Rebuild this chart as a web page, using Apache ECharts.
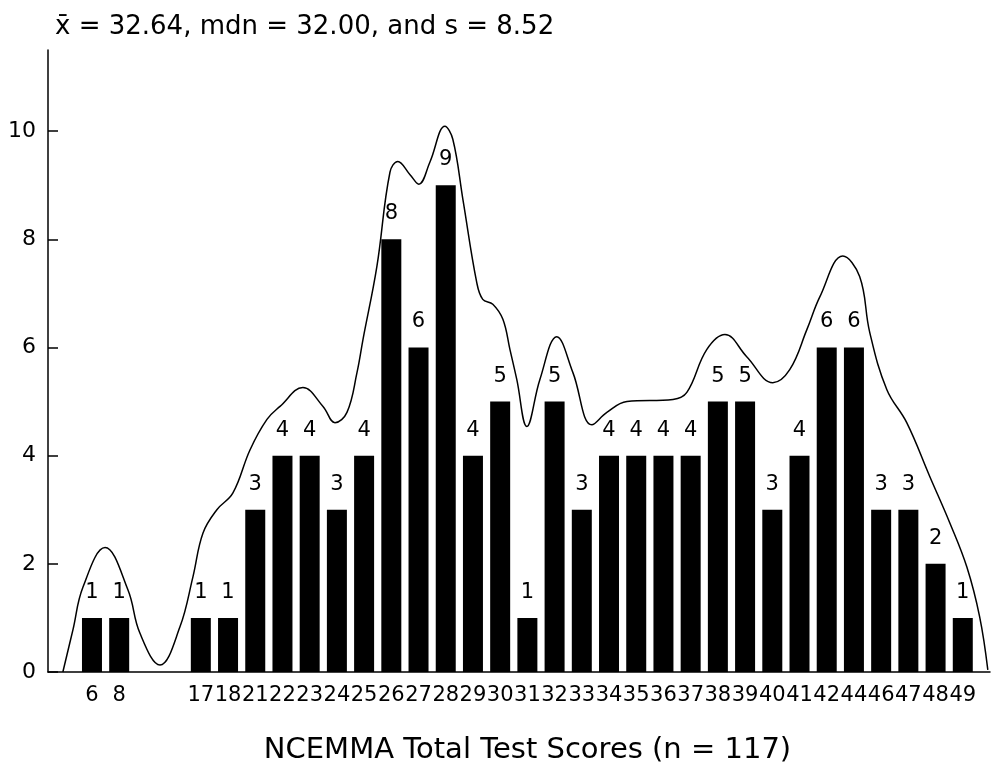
<!DOCTYPE html>
<html>
<head>
<meta charset="utf-8">
<script src="https://cdn.jsdelivr.net/npm/echarts@6/dist/echarts.min.js"></script>
<style>html,body{margin:0;padding:0;background:#fff}#c{width:995px;height:766px}</style>
</head>
<body>
<div id="c"></div>
<script>
// Score categories (blank entries are empty score slots on the axis)
const categories = ['6','8','','','17','18','21','22','23','24','25','26','27','28','29','30','31','32','33','34','35','36','37','38','39','40','41','42','44','46','47','48','49'];
// Frequency of each score
const counts = [1,1,null,null,1,1,3,4,4,3,4,8,6,9,4,5,1,5,3,4,4,4,4,5,5,3,4,6,6,3,3,2,1];
// Smoothed density curve, x in category-slot units (slot 1 = score 6)
const curveX = [-0.07,0.30,0.67,1.48,2.32,2.76,3.50,4.23,4.71,5.08,5.59,6.18,6.81,7.43,7.91,8.75,9.49,9.93,10.37,10.74,10.96,11.47,11.95,12.24,12.68,13.01,13.42,13.97,14.26,14.63,15.14,15.36,15.73,16.10,16.36,16.61,16.98,17.46,18.08,18.67,19.37,19.92,20.66,22.35,22.86,23.59,24.26,25.06,26.02,26.64,27.27,27.75,28.59,29.21,29.58,30.21,30.94,31.79,32.52,33.15,33.62,33.92];
const curveY = [0,0.78,1.57,2.30,1.52,0.72,0.13,0.83,1.76,2.57,3.00,3.31,4.11,4.67,4.91,5.26,4.91,4.61,4.80,5.54,6.15,7.50,9.24,9.44,9.20,9.02,9.43,10.09,9.85,8.74,7.20,6.89,6.80,6.52,5.96,5.41,4.54,5.41,6.20,5.54,4.57,4.80,5.00,5.04,5.17,5.96,6.24,5.83,5.35,5.59,6.33,6.94,7.69,7.31,6.28,5.22,4.61,3.61,2.76,1.94,1.02,0.04];
const yTicks = [0,2,4,6,8,10];
const titleText = 'x\u0304 = 32.64, mdn = 32.00, and s = 8.52';
const axisTitle = 'NCEMMA Total Test Scores (n = 117)';

const slots = categories.map((c, i) => i + 1);
const labelSlots = slots.filter((s, i) => categories[i] !== '');
const barData = [];
counts.forEach((v, i) => { if (v != null) barData.push([i + 1, v]); });
const lineData = curveX.map((x, i) => [x, curveY[i]]);

const FONT = 'DejaVu Sans';
const chart = echarts.init(document.getElementById('c'), null, {renderer: 'canvas'});
chart.setOption({
  animation: false,
  backgroundColor: '#fff',
  title: {
    text: titleText,
    left: 50, top: 9,
    textStyle: {fontFamily: FONT, fontSize: 26, fontWeight: 'normal', color: '#000'}
  },
  grid: {left: 48, right: 5, top: 50, bottom: 94, outerBoundsMode: 'none'},
  xAxis: {
    type: 'value',
    min: -0.616, max: 34,
    splitLine: {show: false},
    axisLine: {show: true, onZero: false, lineStyle: {color: '#000', width: 1.5}},
    axisTick: {show: false},
    axisLabel: {
      customValues: labelSlots,
      formatter: v => categories[Math.round(v) - 1] || '',
      fontFamily: FONT, fontSize: 21, color: '#000', margin: 13
    },
    name: axisTitle,
    nameLocation: 'middle',
    nameGap: 64,
    nameTextStyle: {fontFamily: FONT, fontSize: 29, color: '#000', padding: [0, 0, 0, 17]}
  },
  yAxis: {
    type: 'value',
    min: 0, max: 11.5,
    splitLine: {show: false},
    axisLine: {show: true, onZero: false, lineStyle: {color: '#000', width: 1.5}},
    axisTick: {show: true, inside: true, length: 10, customValues: yTicks, lineStyle: {color: '#000', width: 1.5}},
    axisLabel: {customValues: yTicks, fontFamily: FONT, fontSize: 22, color: '#000', margin: 12}
  },
  series: [
    {
      type: 'bar',
      data: barData,
      barWidth: 20,
      itemStyle: {color: '#000'},
      label: {show: true, position: 'top', distance: 15, fontFamily: FONT, fontSize: 21, color: '#000',
        formatter: p => String(p.value[1])}
    },
    {
      type: 'line',
      data: lineData,
      smooth: 0.4,
      showSymbol: false,
      symbol: 'none',
      lineStyle: {color: '#000', width: 1.5},
      z: 3
    }
  ]
});
</script>
</body>
</html>
